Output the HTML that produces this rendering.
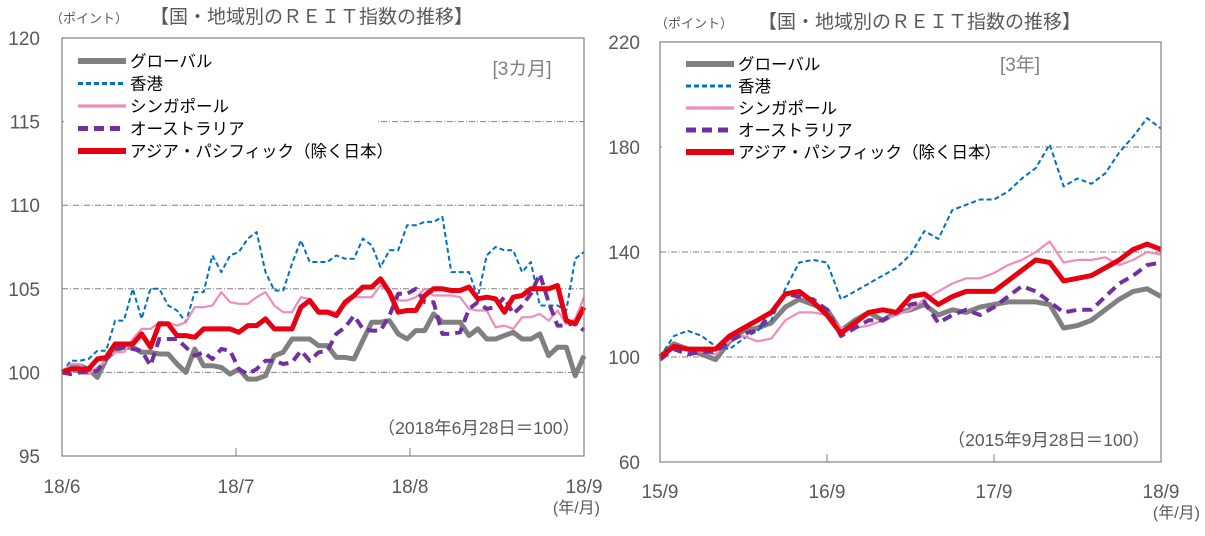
<!DOCTYPE html>
<html><head><meta charset="utf-8"><style>
body{margin:0;background:#fff;width:1205px;height:531px;overflow:hidden;font-family:"Liberation Sans","Noto Sans CJK JP",sans-serif;}
svg text{font-family:"Liberation Sans","Noto Sans CJK JP",sans-serif;}
</style></head><body>
<svg id="c" width="1205" height="531"></svg>
<script>
// ---- Left chart data (3 months) ----
const leftGlobal=[100,100.3,100.4,100.2,99.7,100.8,101.3,101.5,101.5,101.2,101.2,101.1,101.1,100.5,100,101.4,100.4,100.4,100.3,99.9,100.2,99.6,99.6,99.8,101,101.2,102,102,102,101.6,101.6,100.9,100.9,100.8,101.9,103,103,103.1,102.3,102,102.5,102.5,103.5,103,103,103,102.2,102.6,102,102,102.2,102.4,102,102,102.3,101,101.5,101.5,99.8,101];
const leftHK=[100,100.7,100.7,100.8,101.3,101.3,103.1,103.1,105,103.2,105,105,104,103.7,103,104.8,104.8,107,106,107,107.2,108,108.4,106,104.9,104.9,106.5,107.9,106.6,106.6,106.6,107,106.8,106.8,108,107.6,106.3,107.3,107.3,108.8,108.8,109,109,109.3,106,106,106,104.5,107,107.5,107.3,107.3,106,106.6,104,104,104,103.7,106.8,107.2];
const leftSG=[100,100.5,100.5,99.9,100.3,100.7,101.2,101.2,102,102.6,102.6,103,103,102.8,103,103.9,103.9,104,104.8,104.2,104.1,104.1,104.5,104.8,104,103.6,103.6,104.5,104.4,103.7,103.7,103.6,104,104.5,104.5,104.5,105.2,104.8,104.3,104.3,104.5,105,104.6,104.6,104.6,104.5,103.8,103.7,103.7,102.7,102.8,102.6,103.3,103.3,103.5,103.1,103.7,102.9,103.2,104.5];
const leftAU=[100,99.9,100,100,100.1,100.8,101.4,101.5,101.4,101.3,100.4,102,102,102,101.5,101,101.2,100.8,101.4,101.3,100.2,99.9,100.2,100.7,100.7,100.5,100.6,101.3,100.7,101.2,101.3,102.3,102.7,103.4,102.6,102.5,102.5,103.4,104.7,104.7,105,104.2,104.2,102.3,102.3,102.4,103.8,104.2,103.8,103.9,104.5,103.5,104,104.7,105.9,104.2,102.8,102.8,103,102.5];
const leftAP=[100,100.2,100.2,100.2,100.8,100.9,101.7,101.7,101.7,102.3,101.5,102.9,102.9,102.2,102.2,102.1,102.6,102.6,102.6,102.6,102.4,102.8,102.8,103.2,102.6,102.6,102.6,103.9,104.3,103.6,103.6,103.4,104.2,104.6,105.1,105.1,105.6,104.8,103.6,103.7,103.7,104.6,105,105,104.9,104.9,105.1,104.4,104.5,104.4,103.6,104.5,104.6,105,105,105,105.2,103.1,102.9,103.9];
const leftTicksY=[95,100,105,110,115,120];
const leftTicksX=["18/6","18/7","18/8","18/9"];
// ---- Right chart data (3 years, monthly) ----
const rightGlobal=[100,105,103,101,99,106,110,111,113,119,122,120,118,110,114,117,114,117,118,120,116,118,117,119,120,121,121,121,120,111,112,114,118,122,125,126,123];
const rightHK=[100,108,110,108,104,103,107,110,114,126,136,137,136,122,125,128,131,134,139,148,145,156,158,160,160,163,168,172,181,165,168,166,170,178,184,191,187];
const rightSG=[100,104,103,102,101,106,108,106,107,114,117,117,116,111,111,112,114,116,118,122,125,128,130,130,132,135,137,140,144,136,137,137,138,135,137,140,139];
const rightAU=[99,103,101,102,102,106,109,110,117,124,123,122,118,108,111,114,114,117,120,121,113,116,118,116,119,123,127,125,121,117,118,118,123,128,131,135,136];
const rightAP=[100,104,103,103,103,108,111,114,117,124,125,121,116,109,113,117,118,117,123,124,120,123,125,125,125,129,133,137,136,129,130,131,134,137,141,143,141];
const rightTicksY=[60,100,140,180,220];
const rightTicksX=["15/9","16/9","17/9","18/9"];
const legendLabels=["グローバル","香港","シンガポール","オーストラリア","アジア・パシフィック（除く日本）"];

const NS="http://www.w3.org/2000/svg";
const svg=document.getElementById('c');
function mk(tag,attrs,parent){const e=document.createElementNS(NS,tag);for(const k in attrs)e.setAttribute(k,attrs[k]);(parent||svg).appendChild(e);return e;}
const styles=[
 {stroke:"#808080",w:5,dash:""},
 {stroke:"#0070c0",w:2,dash:"5,3"},
 {stroke:"#f08cbc",w:2.2,dash:""},
 {stroke:"#7030a0",w:4,dash:"10,6"},
 {stroke:"#e60012",w:5,dash:""}];
function chart(cfg){
 const g=mk('g',{});
 
 
 const {x0,x1,y0,y1,ymin,ymax}=cfg;
 const sy=v=>y1-(v-ymin)/(ymax-ymin)*(y1-y0);
 const sx=(i,n)=>x0+i/(n-1)*(x1-x0);
 cfg.ticksY.forEach(v=>{
  if(v!==ymin&&v!==ymax){const l=mk('line',{x1:x0,x2:x1,y1:sy(v),y2:sy(v),stroke:"#808080","stroke-width":1,"stroke-dasharray":"6,2,1,2"},g);
  }
  const t=mk('text',{x:cfg.ylx,y:sy(v)+7,"text-anchor":"end","font-size":19,fill:"#595959"},g);t.textContent=v;
  
 });
 cfg.ticksX.forEach((lab,i)=>{
  const x=x0+i/(cfg.ticksX.length-1)*(x1-x0);
  if(i>0&&i<cfg.ticksX.length-1)mk('line',{x1:x,x2:x,y1:y1-8,y2:y1,stroke:"#808080"},g);
  const t=mk('text',{x:x,y:cfg.xly,"text-anchor":"middle","font-size":19,fill:"#595959"},g);t.textContent=lab;
  
 });
 cfg.series.forEach((s,k)=>{
  const d=s.map((v,i)=>(i?'L':'M')+sx(i,s.length).toFixed(1)+','+sy(v).toFixed(1)).join('');
  const p=mk('path',{d:d,fill:"none",stroke:styles[k].stroke,"stroke-width":styles[k].w,"stroke-dasharray":styles[k].dash,"stroke-linejoin":"round"},g);
  
  
 });
 mk('rect',{x:x0+2,y:y0+2,width:cfg.legW,height:125,fill:"#fff"},g);
 legendLabels.forEach((lab,k)=>{
  const y=cfg.legY+k*cfg.legDy;
  const it=mk('g',{},g);
  
  
  mk('line',{x1:cfg.legX,x2:cfg.legX+48,y1:y,y2:y,stroke:styles[k].stroke,"stroke-width":styles[k].w+1,"stroke-dasharray":styles[k].dash},it);
  const t=mk('text',{x:cfg.legX+52,y:y+6,"font-size":16.5,fill:"#000"},it);t.textContent=lab;
 });
 mk('rect',{x:x0,y:y0,width:x1-x0,height:y1-y0,fill:"none",stroke:"#808080","stroke-width":1.2},g);
 const p=mk('text',{x:cfg.periodX,y:cfg.periodY,"font-size":19,fill:"#808080","text-anchor":"middle"},g);p.textContent=cfg.period;
 
 const b=mk('text',{x:cfg.baseX,y:cfg.baseY,"font-size":17.5,fill:"#595959","text-anchor":"end"},g);b.textContent=cfg.base;
 
 const u=mk('text',{x:cfg.unitX,y:cfg.titleY,"font-size":13,fill:"#595959"},g);u.textContent="（ポイント）";
 
 const ti=mk('text',{x:cfg.titleX,y:cfg.titleY,"font-size":19,fill:"#595959"},g);ti.textContent="【国・地域別のＲＥＩＴ指数の推移】";
 
 const xu=mk('text',{x:cfg.xuX,y:cfg.xly+20,"font-size":16,fill:"#595959","text-anchor":"end"},g);xu.textContent="(年/月)";
 
}
chart({name:'chart-3-months',x0:62,x1:584,y0:38,y1:456,ymin:95,ymax:120,ticksY:leftTicksY,ticksX:leftTicksX,ylx:40,xly:493,
 series:[leftGlobal,leftHK,leftSG,leftAU,leftAP],legW:312,legX:78,legY:61,legDy:22.5,period:"[3カ月]",periodX:522,periodY:75,
 base:"（2018年6月28日＝100）",baseX:580,baseY:434,unitX:50,titleX:150,titleY:23,xuX:600});
chart({name:'chart-3-years',x0:660,x1:1161,y0:42,y1:462,ymin:60,ymax:220,ticksY:rightTicksY,ticksX:rightTicksX,ylx:640,xly:498,
 series:[rightGlobal,rightHK,rightSG,rightAU,rightAP],legW:310,legX:686,legY:64,legDy:22,period:"[3年]",periodX:1020,periodY:71,
 base:"（2015年9月28日＝100）",baseX:1150,baseY:446,unitX:655,titleX:758,titleY:28,xuX:1200});
</script>
</body></html>
